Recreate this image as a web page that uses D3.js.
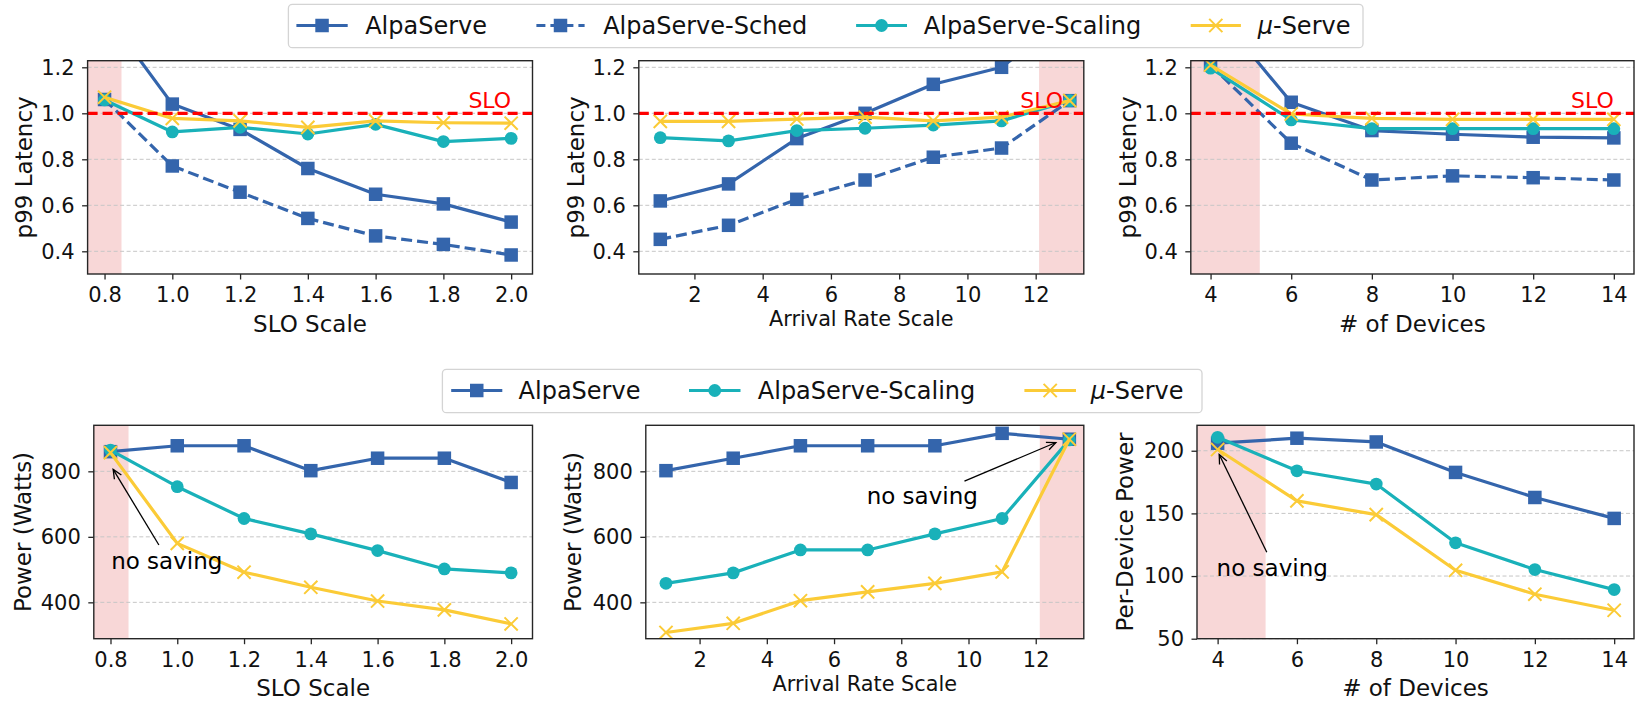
<!DOCTYPE html>
<html>
<head>
<meta charset="utf-8">
<script src="https://cdn.jsdelivr.net/npm/d3@7"></script>
<style>
  body { margin: 0; background: #fff; }
  svg { display: block; }
  text { font-family: "DejaVu Sans", sans-serif; }
</style>
</head>
<body>
<svg id="chart" width="1635" height="701"></svg>
<script>
// ---- x categories ----
const sloScale    = [0.8, 1.0, 1.2, 1.4, 1.6, 1.8, 2.0];
const arrivalRate = [1, 3, 5, 7, 9, 11, 13];
const numDevices  = [4, 6, 8, 10, 12, 14];

// ---- p99 latency (normalised to SLO) ----
const latSloAlpa     = [1.44, 1.04, 0.93, 0.76, 0.648, 0.606, 0.527];
const latSloSched    = [1.06, 0.771, 0.657, 0.543, 0.467, 0.43, 0.384];
const latSloScaling  = [1.058, 0.919, 0.939, 0.91, 0.952, 0.877, 0.891];
const latSloMu       = [1.07, 0.978, 0.967, 0.939, 0.967, 0.959, 0.957];

const latRateAlpa    = [0.619, 0.693, 0.89, 1.0, 1.126, 1.2, 1.43];
const latRateSched   = [0.452, 0.513, 0.626, 0.71, 0.809, 0.849, 1.055];
const latRateScaling = [0.894, 0.88, 0.925, 0.935, 0.949, 0.967, 1.055];
const latRateMu      = [0.965, 0.965, 0.975, 0.983, 0.967, 0.983, 1.055];

const latDevAlpa     = [1.47, 1.048, 0.925, 0.909, 0.896, 0.893];
const latDevSched    = [1.21, 0.87, 0.71, 0.728, 0.72, 0.71];
const latDevScaling  = [1.196, 0.971, 0.933, 0.933, 0.933, 0.933];
const latDevMu       = [1.21, 0.997, 0.978, 0.974, 0.974, 0.974];

// ---- power (Watts) ----
const powSloAlpa     = [860, 878, 878, 802, 840, 840, 766];
const powSloScaling  = [865, 753, 656, 609, 558, 502, 490];
const powSloMu       = [857, 580, 492, 446, 404, 377, 334];

const powRateAlpa    = [802, 840, 878, 878, 878, 916, 898];
const powRateScaling = [458, 490, 560, 560, 609, 656, 896];
const powRateMu      = [308, 336, 405, 432, 458, 493, 898];

// ---- per-device power ----
const pdAlpa         = [206, 210, 207, 182.7, 162.7, 146];
const pdScaling      = [210.7, 184, 173.4, 126.5, 105.2, 89.2];
const pdMu           = [201, 160, 149, 104.6, 85.5, 72.7];

// ---- tick values ----
const sloTicks     = [0.8, 1.0, 1.2, 1.4, 1.6, 1.8, 2.0];
const rateTicks    = [2, 4, 6, 8, 10, 12];
const devTicks     = [4, 6, 8, 10, 12, 14];
const latTicks     = [0.4, 0.6, 0.8, 1.0, 1.2];
const powTicks     = [400, 600, 800];
const pdTicks      = [50, 100, 150, 200];

const sloTarget = 1.0;

// ---- styles ----
const C_ALPA = "#3465ac", C_SCAL = "#19b1b9", C_MU = "#fbcb37";
const S_ALPA  = { name: "AlpaServe", color: C_ALPA, marker: "square" };
const S_SCHED = { name: "AlpaServe-Sched", color: C_ALPA, marker: "square", dash: "11,5" };
const S_SCAL  = { name: "AlpaServe-Scaling", color: C_SCAL, marker: "circle" };
const S_MU    = { name: "μ-Serve", color: C_MU, marker: "x" };

const svg = d3.select("#chart");
const defs = svg.append("defs");

function drawMarker(g, type, cx, cy, color) {
  if (type === "square") {
    const s = 13.5;
    g.append("rect").attr("x", cx - s / 2).attr("y", cy - s / 2)
      .attr("width", s).attr("height", s).attr("fill", color);
  } else if (type === "circle") {
    g.append("circle").attr("cx", cx).attr("cy", cy).attr("r", 6.4).attr("fill", color);
  } else {
    const h = 6.6;
    g.append("path")
      .attr("d", `M${cx - h},${cy - h}L${cx + h},${cy + h}M${cx - h},${cy + h}L${cx + h},${cy - h}`)
      .attr("stroke", color).attr("stroke-width", 2).attr("fill", "none");
  }
}

function drawArrow(g, x1, y1, x2, y2) {
  g.append("line").attr("x1", x1).attr("y1", y1).attr("x2", x2).attr("y2", y2)
    .attr("stroke", "#000").attr("stroke-width", 1.3);
  const ang = Math.atan2(y2 - y1, x2 - x1), L = 10, a = 0.42;
  const p1 = [x2 - L * Math.cos(ang - a), y2 - L * Math.sin(ang - a)];
  const p2 = [x2 - L * Math.cos(ang + a), y2 - L * Math.sin(ang + a)];
  g.append("path").attr("d", `M${p1[0]},${p1[1]}L${x2},${y2}L${p2[0]},${p2[1]}`)
    .attr("fill", "none").attr("stroke", "#000").attr("stroke-width", 1.3);
}

const fmt1 = d3.format(".1f"), fmt0 = d3.format("d");

const panels = [
  { id: 1, left: 87.6, right: 532.5, top: 60.7, bottom: 274,
    xDomain: [0.75, 2.063], yDomain: [0.3013, 1.2287], xs: sloScale,
    xTicks: sloTicks, xFmt: fmt1, yTicks: latTicks, yFmt: fmt1,
    xLabel: "SLO Scale", xLabelSize: 23, yLabel: "p99 Latency", yLabelX: 32,
    shade: [0.75, 0.85], slo: true, sloLabelX: 2.0,
    series: [[S_ALPA, latSloAlpa], [S_SCHED, latSloSched], [S_SCAL, latSloScaling], [S_MU, latSloMu]] },
  { id: 2, left: 638.8, right: 1083.8, top: 60.7, bottom: 274,
    xDomain: [0.37, 13.41], yDomain: [0.3013, 1.2287], xs: arrivalRate,
    xTicks: rateTicks, xFmt: fmt0, yTicks: latTicks, yFmt: fmt1,
    xLabel: "Arrival Rate Scale", xLabelSize: 20.8, yLabel: "p99 Latency", yLabelX: 584,
    shade: [12.1, 13.41], slo: true, sloLabelX: 12.8,
    series: [[S_ALPA, latRateAlpa], [S_SCHED, latRateSched], [S_SCAL, latRateScaling], [S_MU, latRateMu]] },
  { id: 3, left: 1190.8, right: 1634, top: 60.7, bottom: 274,
    xDomain: [3.51, 14.5], yDomain: [0.3013, 1.2287], xs: numDevices,
    xTicks: devTicks, xFmt: fmt0, yTicks: latTicks, yFmt: fmt1,
    xLabel: "# of Devices", xLabelSize: 23, yLabel: "p99 Latency", yLabelX: 1136,
    shade: [3.51, 5.22], slo: true, sloLabelX: 14,
    series: [[S_ALPA, latDevAlpa], [S_SCHED, latDevSched], [S_SCAL, latDevScaling], [S_MU, latDevMu]] },
  { id: 4, left: 93.8, right: 532.5, top: 425.3, bottom: 638.7,
    xDomain: [0.75, 2.064], yDomain: [289, 940.5], xs: sloScale,
    xTicks: sloTicks, xFmt: fmt1, yTicks: powTicks, yFmt: fmt0,
    xLabel: "SLO Scale", xLabelSize: 23, yLabel: "Power (Watts)", yLabelX: 31,
    shade: [0.75, 0.854],
    note: { tx: 0.805, ty: 501, ax1: 0.945, ay1: 575, ax2: 0.808, ay2: 806 },
    series: [[S_ALPA, powSloAlpa], [S_SCAL, powSloScaling], [S_MU, powSloMu]] },
  { id: 5, left: 645.8, right: 1083.8, top: 425.3, bottom: 638.7,
    xDomain: [0.4, 13.43], yDomain: [289, 940.5], xs: arrivalRate,
    xTicks: rateTicks, xFmt: fmt0, yTicks: powTicks, yFmt: fmt0,
    xLabel: "Arrival Rate Scale", xLabelSize: 20.8, yLabel: "Power (Watts)", yLabelX: 581,
    shade: [12.12, 13.43],
    note: { tx: 7.0, ty: 700, ax1: 9.88, ay1: 770, ax2: 12.6, ay2: 888 },
    series: [[S_ALPA, powRateAlpa], [S_SCAL, powRateScaling], [S_MU, powRateMu]] },
  { id: 6, left: 1197, right: 1634, top: 425.3, bottom: 638.7,
    xDomain: [3.48, 14.5], yDomain: [50, 220.3], xs: numDevices,
    xTicks: devTicks, xFmt: fmt0, yTicks: pdTicks, yFmt: fmt0,
    xLabel: "# of Devices", xLabelSize: 23, yLabel: "Per-Device Power", yLabelX: 1133,
    shade: [3.48, 5.21],
    note: { tx: 4.0, ty: 100, ax1: 5.24, ay1: 119, ax2: 4.04, ay2: 197 },
    series: [[S_ALPA, pdAlpa], [S_SCAL, pdScaling], [S_MU, pdMu]] }
];

panels.forEach(p => {
  const x = d3.scaleLinear().domain(p.xDomain).range([p.left, p.right]);
  const y = d3.scaleLinear().domain(p.yDomain).range([p.bottom, p.top]);
  const g = svg.append("g");
  const clipId = "clip" + p.id;
  defs.append("clipPath").attr("id", clipId).append("rect")
    .attr("x", p.left).attr("y", p.top)
    .attr("width", p.right - p.left).attr("height", p.bottom - p.top);

  // shaded infeasible region
  g.append("rect")
    .attr("x", x(p.shade[0])).attr("y", p.top)
    .attr("width", x(p.shade[1]) - x(p.shade[0])).attr("height", p.bottom - p.top)
    .attr("fill", "#f8d7d7");

  // horizontal grid
  g.append("g").selectAll("line").data(p.yTicks).join("line")
    .attr("x1", p.left).attr("x2", p.right)
    .attr("y1", d => y(d)).attr("y2", d => y(d))
    .attr("stroke", "#c6c6c6").attr("stroke-width", 1).attr("stroke-dasharray", "4,2.5");

  // series
  const plot = g.append("g").attr("clip-path", `url(#${clipId})`);
  const line = d3.line().x(d => x(d[0])).y(d => y(d[1]));
  p.series.forEach(([s, vals]) => {
    const pts = p.xs.map((xv, i) => [xv, vals[i]]);
    plot.append("path").attr("d", line(pts))
      .attr("fill", "none").attr("stroke", s.color).attr("stroke-width", 3.2)
      .attr("stroke-linejoin", "round")
      .attr("stroke-dasharray", s.dash || null);
    pts.forEach(d => drawMarker(plot, s.marker, x(d[0]), y(d[1]), s.color));
  });

  // SLO reference line
  if (p.slo) {
    plot.append("line")
      .attr("x1", p.left).attr("x2", p.right)
      .attr("y1", y(sloTarget)).attr("y2", y(sloTarget))
      .attr("stroke", "#ff0000").attr("stroke-width", 3.2).attr("stroke-dasharray", "10,5");
    g.append("text").attr("x", x(p.sloLabelX)).attr("y", y(sloTarget) - 5)
      .attr("text-anchor", "end").attr("font-size", 22).attr("fill", "#ff0000").text("SLO");
  }

  // annotation
  if (p.note) {
    const n = p.note;
    drawArrow(g, x(n.ax1), y(n.ay1), x(n.ax2), y(n.ay2));
    g.append("text").attr("x", x(n.tx) - 1).attr("y", y(n.ty))
      .attr("font-size", 23).attr("fill", "#000").text("no saving");
  }

  // axes
  const xa = g.append("g").attr("transform", `translate(0,${p.bottom})`)
    .call(d3.axisBottom(x).tickValues(p.xTicks).tickFormat(p.xFmt).tickSize(5.5).tickPadding(8));
  const ya = g.append("g").attr("transform", `translate(${p.left},0)`)
    .call(d3.axisLeft(y).tickValues(p.yTicks).tickFormat(p.yFmt).tickSize(5.5).tickPadding(7.5));
  [xa, ya].forEach(a => {
    a.select(".domain").remove();
    a.selectAll("line").attr("stroke", "#262626").attr("stroke-width", 1.3);
    a.selectAll("text").attr("font-size", 21).attr("fill", "#111")
      .style("font-family", '"DejaVu Sans", sans-serif');
  });

  // frame
  g.append("rect").attr("x", p.left).attr("y", p.top)
    .attr("width", p.right - p.left).attr("height", p.bottom - p.top)
    .attr("fill", "none").attr("stroke", "#262626").attr("stroke-width", 1.4);

  // axis labels
  g.append("text").attr("x", (p.left + p.right) / 2)
    .attr("y", p.bottom + (p.xLabelSize > 22 ? 57.5 : 52))
    .attr("text-anchor", "middle").attr("font-size", p.xLabelSize).attr("fill", "#111").text(p.xLabel);
  g.append("text")
    .attr("transform", `translate(${p.yLabelX},${(p.top + p.bottom) / 2}) rotate(-90)`)
    .attr("text-anchor", "middle").attr("font-size", 23).attr("fill", "#111").text(p.yLabel);
});

// ---- legends ----
function drawLegend(box, items) {
  const g = svg.append("g");
  g.append("rect").attr("x", box.x).attr("y", box.y).attr("width", box.w).attr("height", box.h)
    .attr("rx", 4).attr("fill", "#fff").attr("stroke", "#d4d4d4").attr("stroke-width", 1.3);
  items.forEach(it => {
    const s = it.s;
    g.append("line").attr("x1", it.h0).attr("x2", it.h1).attr("y1", box.cy).attr("y2", box.cy)
      .attr("stroke", s.color).attr("stroke-width", 3.2).attr("stroke-dasharray", s.dash ? "9,5" : null);
    drawMarker(g, s.marker, (it.h0 + it.h1) / 2, box.cy, s.color);
    const t = g.append("text").attr("x", it.tx).attr("y", box.base).attr("font-size", 24).attr("fill", "#111");
    if (s.name.startsWith("μ")) {
      t.append("tspan").attr("font-style", "italic").text("μ");
      t.append("tspan").text(s.name.slice(1));
    } else {
      t.text(s.name);
    }
  });
}

drawLegend({ x: 288.4, y: 4.3, w: 1074.6, h: 43.4, cy: 25.5, base: 34.3 }, [
  { s: S_ALPA,  h0: 296.4,  h1: 347.7,  tx: 365.2 },
  { s: S_SCHED, h0: 536.4,  h1: 584.6,  tx: 603.2 },
  { s: S_SCAL,  h0: 856.1,  h1: 907,    tx: 923.8 },
  { s: S_MU,    h0: 1190.7, h1: 1240.9, tx: 1257.7 }
]);

drawLegend({ x: 442.4, y: 369.3, w: 759.6, h: 43.4, cy: 390.5, base: 399.3 }, [
  { s: S_ALPA, h0: 451.2,  h1: 502.3,  tx: 518.6 },
  { s: S_SCAL, h0: 689,    h1: 740.5,  tx: 757.8 },
  { s: S_MU,   h0: 1024.4, h1: 1076,   tx: 1090.8 }
]);
</script>
</body>
</html>
